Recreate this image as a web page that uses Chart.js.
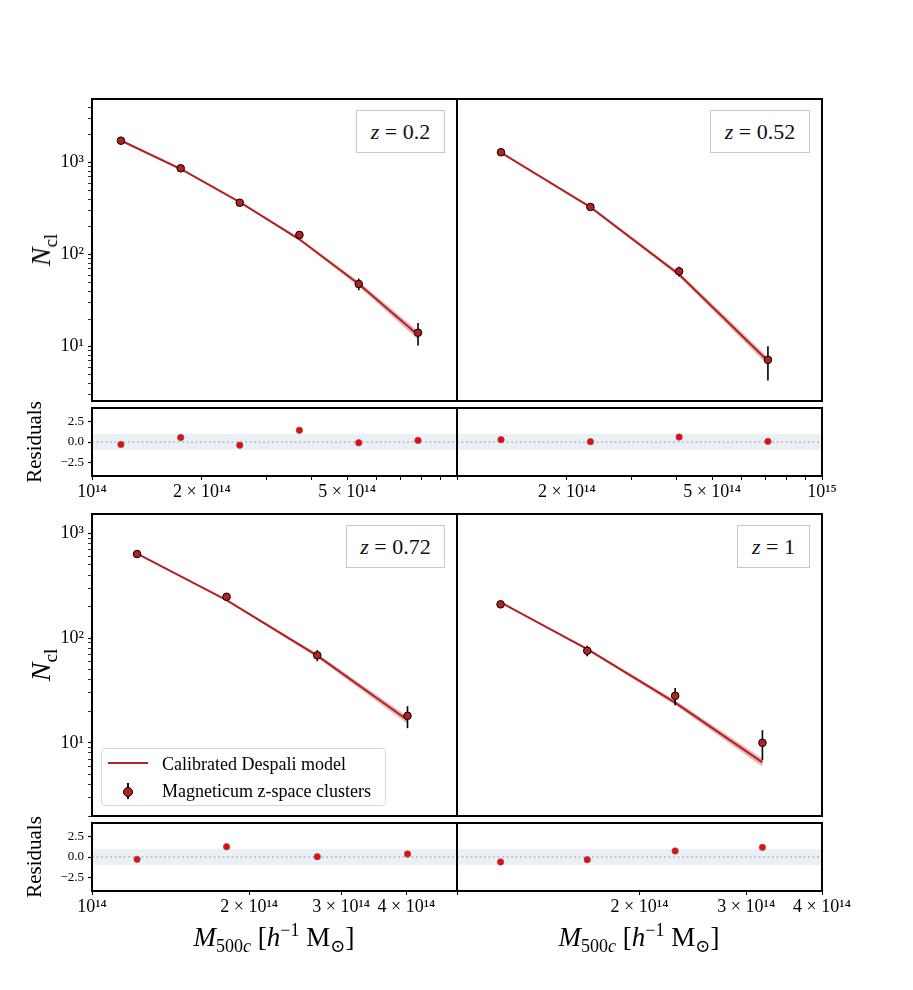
<!DOCTYPE html>
<html>
<head>
<meta charset="utf-8">
<script src="https://cdn.jsdelivr.net/npm/chart.js@4.4.1/dist/chart.umd.min.js"></script>
<style>
html,body{margin:0;padding:0;background:#fff;}
body{width:913px;height:990px;position:relative;overflow:hidden;font-family:"Liberation Serif","DejaVu Serif",serif;color:#000;}
canvas{position:absolute;}
.zbox{position:absolute;border:1px solid #c8c8c8;background:#fff;font-size:22px;box-sizing:border-box;display:flex;align-items:center;justify-content:center;white-space:nowrap;color:#111;}
.rot{position:absolute;transform:translate(-50%,-50%) rotate(-90deg);white-space:nowrap;line-height:1;}
.xt{position:absolute;transform:translate(-50%,-50%);white-space:nowrap;font-size:27px;line-height:1;}
sub,sup{line-height:0;}
#legend{position:absolute;left:101px;top:748px;width:285px;height:58px;border:1px solid #d8d8d8;border-radius:4px;background:rgba(255,255,255,0.85);box-sizing:border-box;font-size:18px;}
#legend .t{position:absolute;left:60px;transform:translateY(-50%);white-space:nowrap;line-height:1;}
</style>
</head>
<body>
<script>
// ---------------- data ----------------
const redshiftLabels = ['0.2', '0.52', '0.72', '1'];

// z = 0.2
const massZ02   = [1.20e14, 1.75e14, 2.54e14, 3.70e14, 5.38e14, 7.82e14];
const countZ02  = [1734, 869, 367, 164, 48, 14.2];
const errZ02    = [41.6, 29.5, 19.2, 12.8, 6.9, 3.9];
const modelZ02  = [1742, 854, 373, 147, 48.0, 13.4];
const modelLoZ02 = [1725, 842, 366, 142, 45.0, 12.0];
const modelHiZ02 = [1759, 866, 380, 152, 51.0, 14.8];
const residZ02  = [-0.30, 0.55, -0.40, 1.45, -0.10, 0.20];

// z = 0.52
const massZ052   = [1.32e14, 2.32e14, 4.06e14, 7.11e14];
const countZ052  = [1298, 330, 66, 7.2];
const errZ052    = [36, 18.2, 8.1, 2.9];
const modelZ052  = [1288, 329, 61, 7.0];
const modelLoZ052 = [1275, 320, 57.5, 6.3];
const modelHiZ052 = [1301, 338, 64.5, 7.7];
const residZ052  = [0.29, 0.04, 0.61, 0.08];

// z = 0.72
const massZ072   = [1.22e14, 1.81e14, 2.70e14, 4.02e14];
const countZ072  = [634, 248, 68.4, 18.1];
const errZ072    = [25.2, 15.7, 8.3, 4.3];
const modelZ072  = [641, 230, 68, 16.5];
const modelLoZ072 = [635, 226, 65, 15.2];
const modelHiZ072 = [647, 234, 71, 17.8];
const residZ072  = [-0.29, 1.27, 0.04, 0.37];

// z = 1
const massZ1   = [1.18e14, 1.64e14, 2.29e14, 3.19e14];
const countZ1  = [210, 75.7, 28.1, 10.0];
const errZ1    = [14.5, 8.7, 5.3, 3.2];
const modelZ1  = [219, 78.6, 24.2, 6.5];
const modelLoZ1 = [217, 76.5, 22.9, 5.9];
const modelHiZ1 = [221, 80.7, 25.5, 7.1];
const residZ1  = [-0.61, -0.33, 0.74, 1.19];

// axis ranges and ticks
const xRangeTop = [1e14, 1e15];
const xRangeZ072 = [1e14, 5e14];
const xRangeZ1 = [1e14, 4e14];
const yRangeTop = [2.57, 4920];
const yRangeBottom = [2.0, 1530];
const residRange = [-4.2, 4.2];
const residBand = [-1, 1];

const xTicksTop = [1e14, 2e14, 3e14, 4e14, 5e14, 6e14, 7e14, 8e14, 9e14, 1e15];
const xTicksZ072 = [1e14, 2e14, 3e14, 4e14, 5e14];
const xTicksZ1 = [1e14, 2e14, 3e14, 4e14];
const xLabelsZ02  = [[1e14, '10¹⁴'], [2e14, '2 × 10¹⁴'], [5e14, '5 × 10¹⁴']];
const xLabelsZ052 = [[2e14, '2 × 10¹⁴'], [5e14, '5 × 10¹⁴'], [1e15, '10¹⁵']];
const xLabelsZ072 = [[1e14, '10¹⁴'], [2e14, '2 × 10¹⁴'], [3e14, '3 × 10¹⁴'], [4e14, '4 × 10¹⁴']];
const xLabelsZ1   = [[2e14, '2 × 10¹⁴'], [3e14, '3 × 10¹⁴'], [4e14, '4 × 10¹⁴']];
const yTicksTop = [3,4,5,6,7,8,9,10,20,30,40,50,60,70,80,90,100,200,300,400,500,600,700,800,900,1000,2000,3000,4000];
const yTicksBottom = [2,3,4,5,6,7,8,9,10,20,30,40,50,60,70,80,90,100,200,300,400,500,600,700,800,900,1000];
const yLabels = [[10, '10¹'], [100, '10²'], [1000, '10³']];
const residTicks = [-2.5, 0, 2.5];
const residLabels = [[-2.5, '−2.5'], [0, '0.0'], [2.5, '2.5']];

// ---------------- drawing ----------------
const FONT = "'Liberation Serif','DejaVu Serif',serif";
const PAD = {L: 80, T: 24, R: 64, B: 40};
const RED = '#b22222';

function labeler(pairs) {
  return v => {
    for (const [val, txt] of pairs) {
      if (v === val || Math.abs(v - val) <= 1e-9 * Math.abs(val)) return txt;
    }
    return '';
  };
}
function pts(xs, ys) { return xs.map((x, i) => ({x: x, y: ys[i]})); }

const framePlugin = {
  id: 'frame',
  afterDraw(chart) {
    const {ctx, chartArea: a} = chart;
    ctx.save();
    ctx.strokeStyle = '#000';
    ctx.lineWidth = 2;
    ctx.strokeRect(a.left, a.top, a.right - a.left, a.bottom - a.top);
    ctx.restore();
  }
};
const errPlugin = {
  id: 'errbars',
  beforeDatasetDraw(chart, args) {
    const ds = chart.data.datasets[args.index];
    if (!ds.errors) return;
    const {ctx, scales: {x, y}} = chart;
    ctx.save();
    ctx.strokeStyle = '#000';
    ctx.lineWidth = 1.6;
    ds.data.forEach((p, j) => {
      const px = x.getPixelForValue(p.x);
      ctx.beginPath();
      ctx.moveTo(px, y.getPixelForValue(p.y - ds.errors[j]));
      ctx.lineTo(px, y.getPixelForValue(p.y + ds.errors[j]));
      ctx.stroke();
    });
    ctx.restore();
  }
};

function makeCanvas(area) {
  const c = document.createElement('canvas');
  const w = area.w + PAD.L + PAD.R, h = area.h + PAD.T + PAD.B;
  c.width = w; c.height = h;
  c.style.left = (area.l - PAD.L) + 'px';
  c.style.top = (area.t - PAD.T) + 'px';
  c.style.width = w + 'px';
  c.style.height = h + 'px';
  document.body.appendChild(c);
  return c;
}

function axisX(range, ticks, labels, showLabels, fontSize) {
  return {
    type: 'logarithmic', min: range[0], max: range[1],
    afterFit: s => { s.height = PAD.B; },
    afterBuildTicks: s => { s.ticks = ticks.map(v => ({value: v})); },
    ticks: {display: showLabels, autoSkip: false, maxRotation: 0, minRotation: 0, padding: 1,
      color: '#000', font: {family: FONT, size: fontSize}, callback: labeler(labels)},
    grid: {display: showLabels, drawOnChartArea: false, tickLength: 4, color: '#000',
      tickWidth: 1},
    border: {display: false}
  };
}
function axisY(type, range, ticks, labels, showLabels, fontSize) {
  return {
    type: type, min: range[0], max: range[1],
    afterFit: s => { s.width = PAD.L; },
    afterBuildTicks: s => { s.ticks = ticks.map(v => ({value: v})); },
    ticks: {display: showLabels, autoSkip: false, padding: 4, color: '#000',
      font: {family: FONT, size: fontSize}, callback: labeler(labels)},
    grid: {display: showLabels, drawOnChartArea: false, tickLength: 4, color: '#000',
      tickWidth: ctx => (labels.some(p => p[0] === (ctx.tick && ctx.tick.value)) ? 1.2 : 0.8)},
    border: {display: false}
  };
}

function mainPanel(area, p) {
  const c = makeCanvas(area);
  new Chart(c, {
    type: 'scatter',
    data: {datasets: [
      {label: 'Magneticum z-space clusters', data: pts(p.mass, p.count), errors: p.err,
       pointRadius: 3.8, pointBackgroundColor: RED, pointBorderColor: '#000', pointBorderWidth: 1,
       showLine: false, order: 0},
      {label: 'Calibrated Despali model', data: pts(p.mass, p.model), showLine: true,
       borderColor: RED, borderWidth: 2, pointRadius: 0, fill: false, order: 1},
      {label: 'band upper', data: pts(p.mass, p.hi), showLine: true, borderColor: 'transparent',
       borderWidth: 1, pointRadius: 0, fill: '+1', backgroundColor: 'rgba(178,34,34,0.33)', order: 2},
      {label: 'band lower', data: pts(p.mass, p.lo), showLine: true, borderColor: 'transparent',
       borderWidth: 1, pointRadius: 0, fill: false, order: 3}
    ]},
    options: {
      responsive: false, animation: false, devicePixelRatio: 1, events: [],
      layout: {padding: {left: 0, top: PAD.T, right: PAD.R, bottom: 0}},
      plugins: {legend: {display: false}, tooltip: {enabled: false}},
      scales: {
        x: axisX(p.xRange, p.xTicks, [], false, 18),
        y: axisY('logarithmic', p.yRange, p.yTicks, yLabels, p.showY, 18)
      }
    },
    plugins: [errPlugin, framePlugin]
  });
}

function residPanel(area, p) {
  const c = makeCanvas(area);
  new Chart(c, {
    type: 'scatter',
    data: {datasets: [
      {label: 'residuals', data: pts(p.mass, p.resid), pointRadius: 3.2,
       pointBackgroundColor: '#ff0000', pointBorderColor: '#666', pointBorderWidth: 0.8,
       showLine: false, order: 0},
      {label: 'zero', data: [{x: p.xRange[0], y: 0}, {x: p.xRange[1], y: 0}], showLine: true,
       borderColor: '#a0a0a0', borderWidth: 1.2, borderDash: [2, 2.5], pointRadius: 0, order: 1},
      {label: 'band upper', data: [{x: p.xRange[0], y: residBand[1]}, {x: p.xRange[1], y: residBand[1]}],
       showLine: true, borderColor: 'transparent', borderWidth: 1, pointRadius: 0, fill: '+1',
       backgroundColor: 'rgba(176,196,222,0.25)', order: 2},
      {label: 'band lower', data: [{x: p.xRange[0], y: residBand[0]}, {x: p.xRange[1], y: residBand[0]}],
       showLine: true, borderColor: 'transparent', borderWidth: 1, pointRadius: 0, fill: false, order: 3}
    ]},
    options: {
      responsive: false, animation: false, devicePixelRatio: 1, events: [],
      layout: {padding: {left: 0, top: PAD.T, right: PAD.R, bottom: 0}},
      plugins: {legend: {display: false}, tooltip: {enabled: false}},
      scales: {
        x: axisX(p.xRange, p.xTicks, p.xLabels, true, 18),
        y: axisY('linear', residRange, residTicks, residLabels, p.showY, 13)
      }
    },
    plugins: [framePlugin]
  });
}

const panels = [
  {col: 0, row: 0, mass: massZ02, count: countZ02, err: errZ02, model: modelZ02, lo: modelLoZ02, hi: modelHiZ02,
   resid: residZ02, xRange: xRangeTop, xTicks: xTicksTop, xLabels: xLabelsZ02, yRange: yRangeTop, yTicks: yTicksTop, showY: true},
  {col: 1, row: 0, mass: massZ052, count: countZ052, err: errZ052, model: modelZ052, lo: modelLoZ052, hi: modelHiZ052,
   resid: residZ052, xRange: xRangeTop, xTicks: xTicksTop, xLabels: xLabelsZ052, yRange: yRangeTop, yTicks: yTicksTop, showY: false},
  {col: 0, row: 1, mass: massZ072, count: countZ072, err: errZ072, model: modelZ072, lo: modelLoZ072, hi: modelHiZ072,
   resid: residZ072, xRange: xRangeZ072, xTicks: xTicksZ072, xLabels: xLabelsZ072, yRange: yRangeBottom, yTicks: yTicksBottom, showY: true},
  {col: 1, row: 1, mass: massZ1, count: countZ1, err: errZ1, model: modelZ1, lo: modelLoZ1, hi: modelHiZ1,
   resid: residZ1, xRange: xRangeZ1, xTicks: xTicksZ1, xLabels: xLabelsZ1, yRange: yRangeBottom, yTicks: yTicksBottom, showY: false}
];

const colLeft = [92, 457];
const rowMainTop = [99, 514];
const rowResTop = [408, 823];
panels.forEach(p => {
  mainPanel({l: colLeft[p.col], t: rowMainTop[p.row], w: 365, h: 302}, p);
  residPanel({l: colLeft[p.col], t: rowResTop[p.row], w: 365, h: 68}, p);
});

// ---------------- text overlays ----------------
function addHTML(html) {
  const d = document.createElement('div');
  d.innerHTML = html;
  while (d.firstChild) document.body.appendChild(d.firstChild);
}
const zBoxes = [
  {l: 356, t: 110, w: 89, h: 43},
  {l: 710, t: 110, w: 100, h: 43},
  {l: 346, t: 525, w: 99, h: 43},
  {l: 737, t: 525, w: 73, h: 43}
];
zBoxes.forEach((b, i) => {
  addHTML(`<div class="zbox" style="left:${b.l}px;top:${b.t}px;width:${b.w}px;height:${b.h}px"><i>z</i>&nbsp;=&nbsp;${redshiftLabels[i]}</div>`);
});
[250, 665].forEach(cy => {
  addHTML(`<div class="rot" style="left:41px;top:${cy}px;font-size:28px"><i>N</i><sub style="font-size:19px">cl</sub></div>`);
});
[442, 857].forEach(cy => {
  addHTML(`<div class="rot" style="left:34px;top:${cy}px;font-size:21px">Residuals</div>`);
});
[274, 639].forEach(cx => {
  addHTML(`<div class="xt" style="left:${cx}px;top:937px"><i>M</i><sub style="font-size:18px">500<i>c</i></sub> [<i>h</i><sup style="font-size:18px">−1</sup> M<sub style="font-size:18px">⊙</sub>]</div>`);
});
addHTML(`<div id="legend">
  <div style="position:absolute;left:6px;top:13px;width:40px;height:2px;background:${RED}"></div>
  <div class="t" style="top:15px">Calibrated Despali model</div>
  <div style="position:absolute;left:25px;top:34px;width:2px;height:16px;background:#000"></div>
  <div style="position:absolute;left:21px;top:37.5px;width:8px;height:8px;border-radius:50%;background:${RED};border:1px solid #000"></div>
  <div class="t" style="top:42px">Magneticum z-space clusters</div>
</div>`);
</script>
</body>
</html>
